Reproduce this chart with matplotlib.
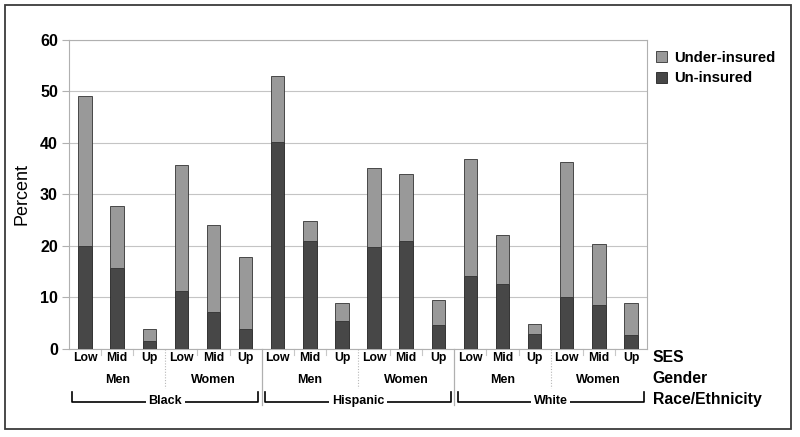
import numpy as np
import matplotlib
matplotlib.use('Agg')
import matplotlib.pyplot as plt
from matplotlib.patches import Rectangle

plt.rcParams['font.family'] = ['Liberation Sans', 'DejaVu Sans']

ses = ['Low', 'Mid', 'Up'] * 6
genders = ['Men', 'Women'] * 3
races = ['Black', 'Hispanic', 'White']

uninsured = [20.0, 15.7, 1.6, 11.3, 7.2, 3.8,
             40.1, 21.0, 5.4, 19.8, 20.9, 4.6,
             14.1, 12.6, 2.9, 10.0, 8.5, 2.7]
total = [49.1, 27.8, 3.9, 35.7, 24.1, 17.8,
         53.1, 24.8, 8.9, 35.1, 33.9, 9.6,
         36.9, 22.1, 4.8, 36.3, 20.3, 8.9]
underinsured = [t - u for t, u in zip(total, uninsured)]

fig = plt.figure(figsize=(8, 4.37), dpi=100)
ax = fig.add_axes([0.08625, 0.2014, 0.7225, 0.7071])

x = np.arange(len(ses))
b1 = ax.bar(x, uninsured, width=0.42, color='#474747', edgecolor='#222222', linewidth=0.6, zorder=3)
b2 = ax.bar(x, underinsured, bottom=uninsured, width=0.42, color='#999999',
            edgecolor='#333333', linewidth=0.6, zorder=3)

ax.set_xlim(-0.5, len(ses) - 0.5)
ax.set_ylim(0, 60)
ax.set_yticks(range(0, 61, 10))
ax.grid(axis='y', color='#c4c4c4', linewidth=0.8, zorder=0)
ax.set_axisbelow(True)
for s in ax.spines.values():
    s.set_color('#b0b0b0')
    s.set_linewidth(0.8)
ax.tick_params(axis='y', length=5, color='#b0b0b0', labelsize=11.5, pad=3)
for lab in ax.get_yticklabels():
    lab.set_fontweight('bold')
ax.set_xticks([])
ax.set_ylabel('Percent', fontsize=13, labelpad=7)

tr = ax.get_xaxis_transform()
# SES labels and small ticks
for i, s in enumerate(ses):
    ax.text(i, -0.029, s, transform=tr, ha='center', va='center',
            fontsize=8.8, fontweight='bold')
for i in range(1, len(ses)):
    if i % 6 == 0:
        ax.plot([i - 0.5, i - 0.5], [0, -0.18], transform=tr, color='#b0b0b0',
                linewidth=0.9, clip_on=False)
    elif i % 3 == 0:
        ax.plot([i - 0.5, i - 0.5], [0, -0.126], transform=tr, color='#b8b8b8',
                linewidth=0.8, linestyle=(0, (1, 1.5)), clip_on=False)
    else:
        ax.plot([i - 0.5, i - 0.5], [0, -0.02], transform=tr, color='#c8c8c8',
                linewidth=0.8, clip_on=False)

# gender labels
for j, g in enumerate(genders):
    ax.text(j * 3 + 1, -0.100, g, transform=tr, ha='center', va='center',
            fontsize=9, fontweight='bold')

# race brackets
for k, r in enumerate(races):
    x0, x1 = k * 6 - 0.4, k * 6 + 5.4
    ax.plot([x0, x0, x1, x1], [-0.14, -0.170, -0.170, -0.14], transform=tr,
            color='black', linewidth=1.2, clip_on=False)
    ax.text(k * 6 + 2.5, -0.168, r, transform=tr, ha='center', va='center',
            fontsize=9, fontweight='bold',
            bbox=dict(facecolor='white', edgecolor='none', pad=2))

# right side row titles
for y, t in [(-0.026, 'SES'), (-0.097, 'Gender'), (-0.165, 'Race/Ethnicity')]:
    ax.text(1.01, y, t, transform=ax.transAxes, ha='left', va='center',
            fontsize=11.3, fontweight='bold')

ax.legend([b2, b1], ['Under-insured', 'Un-insured'], loc='upper left',
          bbox_to_anchor=(1.005, 0.985), frameon=False, borderaxespad=0,
          handlelength=0.75, handleheight=0.75, handletextpad=0.5,
          labelspacing=0.45, prop={'size': 10.7, 'weight': 'bold'})

fig.patches.append(Rectangle((5 / 800, 1 - 429 / 437), 786 / 800, 424 / 437,
                             transform=fig.transFigure, fill=False,
                             edgecolor='#3a3a3a', linewidth=1.3))

fig.savefig('out.png', dpi=100)
